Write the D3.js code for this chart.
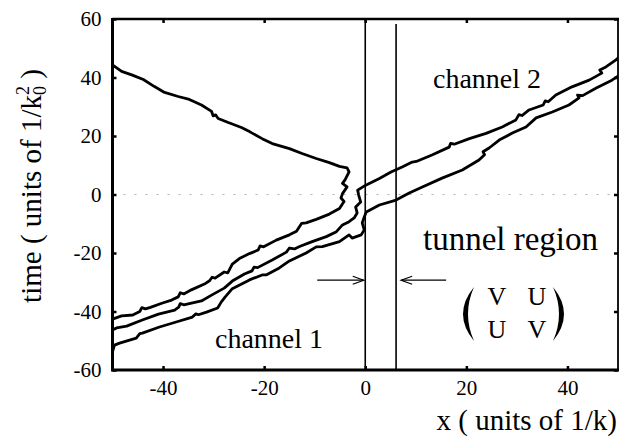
<!DOCTYPE html>
<html>
<head>
<meta charset="utf-8">
<script src="https://cdn.jsdelivr.net/npm/d3@7"></script>
<style>
  html, body { margin: 0; padding: 0; background: #fff; }
  svg { display: block; font-family: "Liberation Serif", "Times New Roman", serif; }
</style>
</head>
<body>
<svg id="chart" width="619" height="443"></svg>
<script>
// Axis set-up
const xDomain = [-50, 50];
const yDomain = [-60, 60];
const xTicks = [-40, -20, 0, 20, 40];
const yTicks = [-60, -40, -20, 0, 20, 40, 60];

// Tunnel region boundaries (x) and the arrows pointing at them
const tunnelEdges = [0, 6.1];
const arrowTime = -29.3;
const leftArrow = [-9.5, -0.3];
const rightArrow = [16, 7.1];

// Trajectories [x, time]: incoming packet that is reflected back into channel 1
const reflectedPath = [
  [-50.0,-42.6],[-48.2,-41.5],[-46.0,-41.2],[-44.6,-40.0],[-44.2,-38.7],[-43.5,-39.1],
  [-42.5,-38.6],[-40.1,-37.1],[-38.3,-36.1],[-37.0,-35.0],[-36.6,-33.6],[-35.9,-34.0],
  [-34.4,-32.6],[-31.6,-30.4],[-30.8,-29.5],[-30.3,-28.3],[-29.7,-28.6],[-27.9,-26.5],
  [-27.2,-26.8],[-26.3,-23.8],[-24.9,-21.9],[-22.9,-20.2],[-21.2,-19.0],[-20.8,-17.6],
  [-20.1,-17.9],[-17.6,-15.6],[-15.0,-13.8],[-13.6,-12.6],[-12.6,-9.9],[-11.7,-9.7],
  [-9.7,-8.5],[-7.1,-6.7],[-5.1,-4.8],[-4.2,-2.4],[-4.8,-1.2],[-4.5,0.3],[-3.6,2.6],
  [-4.5,3.8],[-4.0,5.0],[-3.2,7.7],[-3.6,9.1],
  [-5.1,9.6],[-7.1,10.9],[-9.7,12.3],[-12.5,14.0],[-15.0,15.7],[-18.4,17.4],[-20.4,19.1],
  [-22.9,21.5],[-24.5,22.9],[-27.1,24.6],[-29.1,26.0],[-29.6,27.2],[-30.1,26.9],
  [-30.4,28.4],[-32.4,30.6],[-34.8,32.5],[-37.0,33.5],[-39.7,34.9],[-41.7,36.9],
  [-43.9,39.3],[-46.2,40.9],[-48.2,42.1],[-50.0,44.3]
];
// packet transmitted into the upper branch of channel 2
const upperPath = [
  [-50.0,-46.3],[-49.2,-45.6],[-47.2,-45.0],[-44.1,-42.9],[-40.9,-40.9],[-37.7,-39.5],
  [-36.9,-38.5],[-36.6,-37.3],[-35.9,-37.7],[-32.4,-36.4],[-30.4,-34.4],[-27.9,-32.0],
  [-26.3,-29.6],[-23.9,-27.2],[-22.4,-26.1],[-22.0,-24.8],[-21.3,-25.0],[-18.4,-22.4],
  [-15.6,-19.7],[-15.0,-18.3],[-14.0,-18.6],[-13.0,-17.8],[-10.5,-16.1],[-7.7,-14.4],
  [-5.7,-12.7],[-4.5,-10.4],[-3.2,-9.3],[-2.2,-8.0],[-1.6,-6.3],[-1.9,-4.3],[-0.9,-2.6],
  [-1.3,-0.2],[-1.5,1.5],[0.1,3.2],[2.8,5.5],[5.1,7.7],[7.3,9.4],[9.3,11.1],[10.1,11.3],
  [13.2,13.5],[16.6,16.2],[16.9,17.5],[17.6,17.2],[20.6,19.1],[23.9,20.9],[27.1,23.1],
  [29.8,25.5],[30.4,27.3],[31.0,27.0],[32.4,28.9],[35.2,30.6],[35.6,32.0],[36.2,31.7],
  [37.7,34.0],[40.9,36.8],[44.3,39.1],[46.8,41.5],[46.4,42.6],[47.6,43.6],[49.6,46.0],
  [50.0,46.7]
];
// packet transmitted into the lower branch of channel 2
const lowerPath = [
  [-50.0,-53.8],[-49.6,-51.5],[-48.6,-50.8],[-45.3,-49.1],[-44.6,-47.6],[-44.1,-47.4],
  [-40.7,-45.3],[-37.4,-43.6],[-34.2,-41.9],[-33.5,-40.8],[-33.0,-41.1],[-31.4,-40.2],
  [-29.2,-38.8],[-28.5,-36.8],[-27.7,-35.0],[-26.3,-32.2],[-22.9,-29.2],[-20.4,-27.5],
  [-19.6,-27.5],[-17.0,-25.1],[-15.0,-22.7],[-11.7,-20.0],[-9.7,-17.9],[-8.5,-17.8],
  [-5.1,-16.1],[-3.2,-13.8],[-2.6,-14.9],[-0.8,-13.8],[-0.2,-12.1],[-0.6,-9.7],
  [-0.2,-7.7],[0.2,-6.0],[2.8,-3.6],[6.1,-1.9],[8.7,0.5],[11.3,2.6],[15.2,5.6],
  [19.2,8.4],[22.5,11.8],[23.6,13.6],[23.3,14.6],[24.5,15.9],[26.5,18.6],[29.1,21.0],
  [31.8,23.1],[33.8,26.2],[37.0,28.2],[40.3,30.6],[42.3,33.0],[42.0,34.0],[43.0,33.8],
  [45.7,36.4],[48.8,39.1],[50.0,40.5]
];
const trajectories = [reflectedPath, upperPath, lowerPath];

const plot = { left: 112.5, right: 618, top: 19, bottom: 370 };
const svg = d3.select("#chart");

const x = d3.scaleLinear().domain(xDomain).range([plot.left, plot.right]);
const y = d3.scaleLinear().domain(yDomain).range([plot.bottom, plot.top]);

svg.append("defs").append("clipPath").attr("id", "plot-clip")
  .append("rect")
  .attr("x", plot.left).attr("y", plot.top)
  .attr("width", plot.right - plot.left).attr("height", plot.bottom - plot.top);

// faint dotted line at time = 0
svg.append("line")
  .attr("x1", x(-50)).attr("x2", x(50))
  .attr("y1", y(0)).attr("y2", y(0))
  .attr("stroke", "#b0b0b0").attr("stroke-width", 1)
  .attr("stroke-dasharray", "2 9");

// tunnel region boundaries
svg.append("g").selectAll("line").data(tunnelEdges).join("line")
  .attr("x1", d => x(d)).attr("x2", d => x(d))
  .attr("y1", (d, i) => i === 0 ? y(60) : y(58.3)).attr("y2", y(-60))
  .attr("stroke", "#000").attr("stroke-width", 1.6);

// trajectories
const line = d3.line().x(d => x(d[0])).y(d => y(d[1]));
svg.append("g").attr("clip-path", "url(#plot-clip)")
  .selectAll("path").data(trajectories).join("path")
  .attr("d", line)
  .attr("fill", "none").attr("stroke", "#000")
  .attr("stroke-width", 2.8).attr("stroke-linejoin", "round").attr("stroke-linecap", "round");

// arrows
function arrow(from, to) {
  const x0 = x(from), x1 = x(to), yy = y(arrowTime);
  const dir = Math.sign(x1 - x0);
  svg.append("line")
    .attr("x1", x0).attr("x2", x1).attr("y1", yy).attr("y2", yy)
    .attr("stroke", "#000").attr("stroke-width", 1.2);
  svg.append("path")
    .attr("d", `M${x1 - dir * 11},${yy - 4} L${x1},${yy} L${x1 - dir * 11},${yy + 4}`)
    .attr("fill", "none").attr("stroke", "#000").attr("stroke-width", 1.2);
}
arrow(leftArrow[0], leftArrow[1]);
arrow(rightArrow[0], rightArrow[1]);

// axes (ticks point inward)
const fmt = d => String(d);
const axisFont = g => g.selectAll("text")
  .attr("font-family", '"Liberation Serif", "Times New Roman", serif')
  .attr("font-size", 21).attr("fill", "#000");

svg.append("g").attr("transform", `translate(0,${plot.bottom})`)
  .call(d3.axisBottom(x).tickValues(xTicks).tickFormat(fmt).tickSizeInner(-4).tickSizeOuter(0).tickPadding(10))
  .call(g => g.select(".domain").remove())
  .call(g => g.selectAll("line").attr("stroke-width", 2.5))
  .call(axisFont);
svg.append("g").attr("transform", `translate(0,${plot.top})`)
  .call(d3.axisTop(x).tickValues(xTicks).tickFormat("").tickSizeInner(-4).tickSizeOuter(0))
  .call(g => g.select(".domain").remove())
  .call(g => g.selectAll("line").attr("stroke-width", 2.5));
svg.append("g").attr("transform", `translate(${plot.left},0)`)
  .call(d3.axisLeft(y).tickValues(yTicks).tickFormat(fmt).tickSizeInner(-4).tickSizeOuter(0).tickPadding(11))
  .call(g => g.select(".domain").remove())
  .call(g => g.selectAll("line").attr("stroke-width", 2.5))
  .call(axisFont);
svg.append("g").attr("transform", `translate(${plot.right},0)`)
  .call(d3.axisRight(y).tickValues(yTicks).tickFormat("").tickSizeInner(-4).tickSizeOuter(0))
  .call(g => g.select(".domain").remove())
  .call(g => g.selectAll("line").attr("stroke-width", 2.5));

// frame
const frame = svg.append("g").attr("stroke", "#000");
frame.append("line").attr("x1", plot.left).attr("x2", plot.right + 1).attr("y1", plot.bottom).attr("y2", plot.bottom).attr("stroke-width", 3);
frame.append("line").attr("x1", plot.left).attr("x2", plot.left).attr("y1", plot.top - 1).attr("y2", plot.bottom + 1.5).attr("stroke-width", 3);
frame.append("line").attr("x1", plot.left).attr("x2", plot.right + 1).attr("y1", plot.top).attr("y2", plot.top).attr("stroke-width", 2.5);
frame.append("line").attr("x1", plot.right).attr("x2", plot.right).attr("y1", plot.top).attr("y2", plot.bottom).attr("stroke-width", 1.8);

// axis titles
svg.append("text")
  .attr("x", 617).attr("y", 430).attr("text-anchor", "end")
  .attr("font-size", 29)
  .text("x ( units of 1/k)");

const yTitle = svg.append("text")
  .attr("transform", "translate(41,186) rotate(-90)")
  .attr("text-anchor", "middle")
  .attr("font-size", 29);
yTitle.append("tspan").text("time ( units of 1/k");
yTitle.append("tspan").attr("font-size", 18).attr("dy", 5).text("0");
yTitle.append("tspan").attr("font-size", 18).attr("dx", -9).attr("dy", -17).text("2");
yTitle.append("tspan").attr("dy", 12).text(" )");

// annotations
svg.append("text").attr("x", 215).attr("y", 348).attr("font-size", 28).text("channel 1");
svg.append("text").attr("x", 433).attr("y", 88).attr("font-size", 28).text("channel 2");
svg.append("text").attr("x", 423).attr("y", 250).attr("font-size", 33).text("tunnel region");

// coupling matrix
const matrix = svg.append("g").attr("font-size", 26).attr("text-anchor", "middle");
[["V", "U"], ["U", "V"]].forEach((row, r) => {
  row.forEach((cell, c) => {
    matrix.append("text")
      .attr("x", 497 + c * 40).attr("y", 305 + r * 33)
      .text(cell);
  });
});
matrix.append("path").attr("d", "M474,287 Q452,314 474,341 Q462,314 474,287 Z").attr("fill", "#000");
matrix.append("path").attr("d", "M553,287 Q575,314 553,341 Q565,314 553,287 Z").attr("fill", "#000");
</script>
</body>
</html>
